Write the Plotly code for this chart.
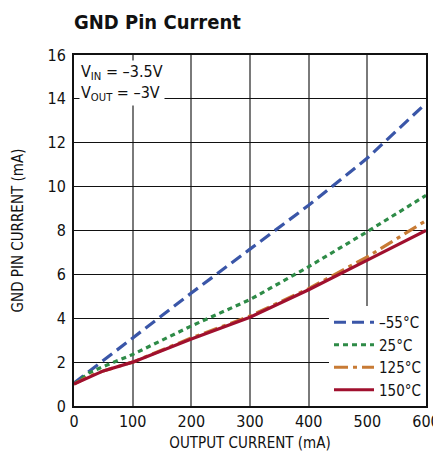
import plotly.graph_objects as go

x_blue = [0, 100, 200, 300, 400, 500, 600]
y_m55 = [1.05, 3.1, 5.15, 7.15, 9.15, 11.3, 13.8]
x_pts = [0, 25, 50, 100, 200, 300, 400, 500, 600]
y_25 = [1.0, 1.5, 1.8, 2.35, 3.65, 4.85, 6.35, 7.95, 9.6]
y_125 = [1.0, 1.35, 1.6, 2.0, 3.1, 4.1, 5.35, 6.8, 8.45]
y_150 = [1.0, 1.3, 1.6, 2.0, 3.05, 4.05, 5.3, 6.65, 8.0]

FONT = "DejaVu Sans Condensed, Liberation Sans, sans-serif"

fig = go.Figure()
fig.add_trace(go.Scatter(x=x_blue, y=y_m55, mode="lines", name="–55°C",
                         line=dict(color="#3a56a8", width=3.2, dash="12px,6px")))
fig.add_trace(go.Scatter(x=x_pts, y=y_25, mode="lines", name="25°C",
                         line=dict(color="#2e8b47", width=3.2, dash="5px,4px")))
fig.add_trace(go.Scatter(x=x_pts, y=y_125, mode="lines", name="125°C",
                         line=dict(color="#c87b35", width=3.2, dash="14px,5px,4px,5px")))
fig.add_trace(go.Scatter(x=x_pts, y=y_150, mode="lines", name="150°C",
                         line=dict(color="#a0102e", width=3.2)))

fig.update_layout(
    width=441, height=444,
    margin=dict(l=66, r=23, t=47, b=46),
    paper_bgcolor="white", plot_bgcolor="white",
    font=dict(family=FONT, size=16, color="#111"),
    title=dict(text="<b>GND Pin Current</b>", x=0, xref="paper", xanchor="left",
               y=0.985, yanchor="top", font=dict(family=FONT, size=20, color="#111")),
    xaxis=dict(range=[0, 600], tickvals=[0, 100, 200, 300, 400, 500, 600],
               showgrid=True, gridcolor="#7a7a7a", gridwidth=1.5,
               showline=True, linecolor="#111", linewidth=2, mirror=True,
               ticks="", zeroline=False, automargin=False, ticklabeloverflow="allow",
               title=dict(text="OUTPUT CURRENT (mA)", font=dict(size=15), standoff=11)),
    yaxis=dict(range=[0, 16], tickvals=list(range(0, 17, 2)),
               showgrid=True, gridcolor="#111", gridwidth=1.3,
               showline=True, linecolor="#111", linewidth=2, mirror=True,
               ticks="", zeroline=False, automargin=False, ticklabelstandoff=3,
               title=dict(text="GND PIN CURRENT (mA)", font=dict(size=15), standoff=20)),
    legend=dict(x=1, y=0, xanchor="right", yanchor="bottom", bgcolor="white",
                font=dict(family=FONT, size=15), tracegroupgap=0,
                itemwidth=40, borderwidth=0),
    showlegend=True,
)

fig.add_annotation(text="V<sub>IN</sub> = –3.5V<br>V<sub>OUT</sub> = –3V",
                   xref="paper", yref="paper", x=0.015, y=0.985,
                   xanchor="left", yanchor="top", align="left", showarrow=False,
                   bgcolor="white", font=dict(family=FONT, size=16, color="#111"))

fig.write_html("out.html")
